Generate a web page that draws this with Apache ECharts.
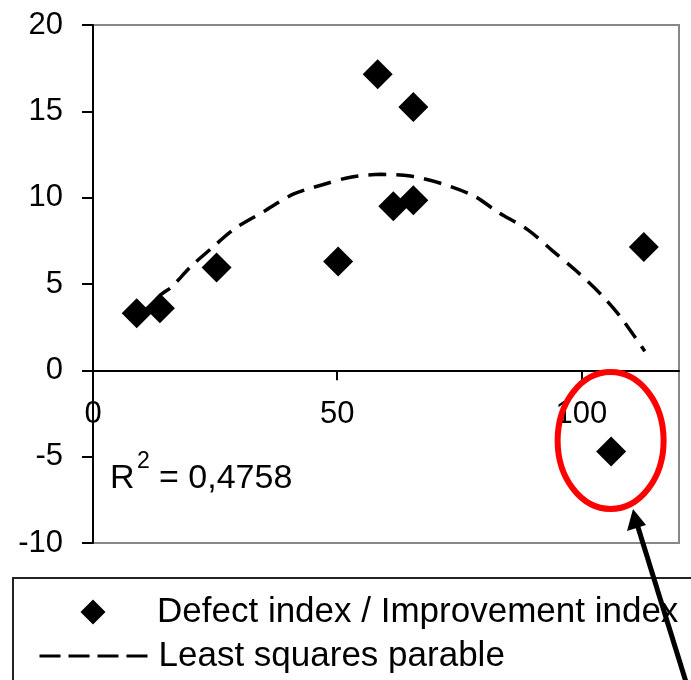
<!DOCTYPE html>
<html>
<head>
<meta charset="utf-8">
<script src="https://cdn.jsdelivr.net/npm/echarts@6/dist/echarts.min.js"></script>
<style>html,body{margin:0;padding:0;background:#fff;}#c{width:691px;height:680px;}</style>
</head>
<body>
<div id="c"></div>
<script>
// Scatter data: Defect index (x) / Improvement index (y)
const pointX = [8.95, 13.7, 25.3, 50.2, 58.3, 61.5, 65.6, 65.6, 106.1, 112.8];
const pointY = [3.3, 3.6, 5.95, 6.3, 17.15, 9.5, 9.85, 15.25, -4.7, 7.15];
// Least squares parabola
const curveX = [9, 14, 16, 20, 24, 29, 35, 41, 47, 53, 59, 65, 71, 78, 83, 89, 94, 99, 104, 108, 113];
const curveY = [2.9, 4.4, 4.8, 6.0, 7.0, 8.2, 9.2, 10.2, 10.75, 11.2, 11.35, 11.25, 10.85, 10.1, 9.15, 8.15, 6.95, 5.75, 4.4, 3.1, 1.1];
const xTicks = [0, 50, 100];
const seriesNames = ['Defect index / Improvement index', 'Least squares parable'];
const r2Label = '0,4758';

const FONT = "'Liberation Sans', Arial, sans-serif";
const chart = echarts.init(document.getElementById('c'), null, {renderer: 'canvas'});

const Y_MIN = -10, Y_MAX = 20;
const GRID = {left: 93, top: 25, right: 12, bottom: 137};
const gridH = 680 - GRID.top - GRID.bottom;
const zeroOffset = -gridH * (0 - Y_MIN) / (Y_MAX - Y_MIN);

const legendText = {fontSize: 35, lineHeight: 25, fontFamily: FONT, color: '#000'};

const option = {
  animation: false,
  backgroundColor: '#fff',
  grid: Object.assign({show: true, borderColor: '#888', borderWidth: 2}, GRID),
  xAxis: {
    type: 'value', min: 0, max: 120, interval: 50,
    offset: zeroOffset,
    axisLine: {show: true, onZero: false, lineStyle: {color: '#000', width: 2}},
    axisTick: {show: true, length: 10, customValues: xTicks, lineStyle: {color: '#000', width: 2}},
    axisLabel: {customValues: xTicks, margin: 29, fontSize: 31, fontFamily: FONT, color: '#000',
      formatter: v => (xTicks.indexOf(v) >= 0 ? String(v) : '')},
    splitLine: {show: false}
  },
  yAxis: {
    type: 'value', min: Y_MIN, max: Y_MAX, interval: 5,
    axisLine: {show: true, onZero: false, lineStyle: {color: '#000', width: 2}},
    axisTick: {show: true, length: 11, lineStyle: {color: '#000', width: 2}},
    axisLabel: {margin: 30, fontSize: 31, fontFamily: FONT, color: '#000'},
    splitLine: {show: false}
  },
  legend: [
    {
      left: 80.5, top: 594.5, padding: 0,
      itemWidth: 25, itemHeight: 25,
      textStyle: Object.assign({padding: [0, 0, 0, 46.5]}, legendText),
      data: [{name: seriesNames[0], icon: 'diamond', itemStyle: {color: '#000', opacity: 1}}]
    },
    {
      left: 38, top: 638.5, padding: 0,
      itemWidth: 110, itemHeight: 25,
      textStyle: Object.assign({padding: [0, 0, 0, 4]}, legendText),
      data: [{name: seriesNames[1], itemStyle: {opacity: 0},
              lineStyle: {type: [21, 8], width: 3, color: '#000'}}]
    }
  ],
  series: [
    {
      name: seriesNames[0], type: 'scatter', symbol: 'diamond', symbolSize: 30,
      itemStyle: {color: '#000', opacity: 1},
      data: pointX.map((x, i) => [x, pointY[i]]), z: 3
    },
    {
      name: seriesNames[1], type: 'line', symbol: 'none', smooth: 0.3,
      lineStyle: {color: '#000', width: 3.5, type: [18, 10]},
      itemStyle: {color: '#000'},
      data: curveX.map((x, i) => [x, curveY[i]]), z: 2
    }
  ]
};
chart.setOption(option);

// annotations: R^2 text, legend frame, red ellipse round the outlier, arrow
const outlierIdx = 8;
const op = chart.convertToPixel({gridIndex: 0}, [pointX[outlierIdx], pointY[outlierIdx]]);
const txt = (x, y, s, size) => ({
  type: 'text', x: x, y: y, z: 10,
  style: {text: s, fontSize: size, fontFamily: FONT, fill: '#000', verticalAlign: 'middle', align: 'left'}
});
chart.setOption({
  graphic: [
    txt(110, 479, 'R', 34),
    txt(137, 462, '2', 23),
    txt(159, 479, '= ' + r2Label, 34),
    {
      type: 'rect', z: 5, silent: true,
      shape: {x: 13, y: 578, width: 760, height: 160},
      style: {fill: 'none', stroke: '#222', lineWidth: 2}
    },
    {
      type: 'ellipse', z: 20,
      shape: {cx: op[0] - 0.5, cy: op[1] - 11, rx: 53, ry: 68.5},
      style: {fill: 'none', stroke: '#f00', lineWidth: 6}
    },
    {
      type: 'line', z: 20,
      shape: {x1: 686, y1: 682, x2: 637, y2: 524},
      style: {stroke: '#000', lineWidth: 5}
    },
    {
      type: 'polygon', z: 20,
      shape: {points: [[633, 509], [627, 531], [646, 525]]},
      style: {fill: '#000'}
    }
  ]
});
</script>
</body>
</html>
